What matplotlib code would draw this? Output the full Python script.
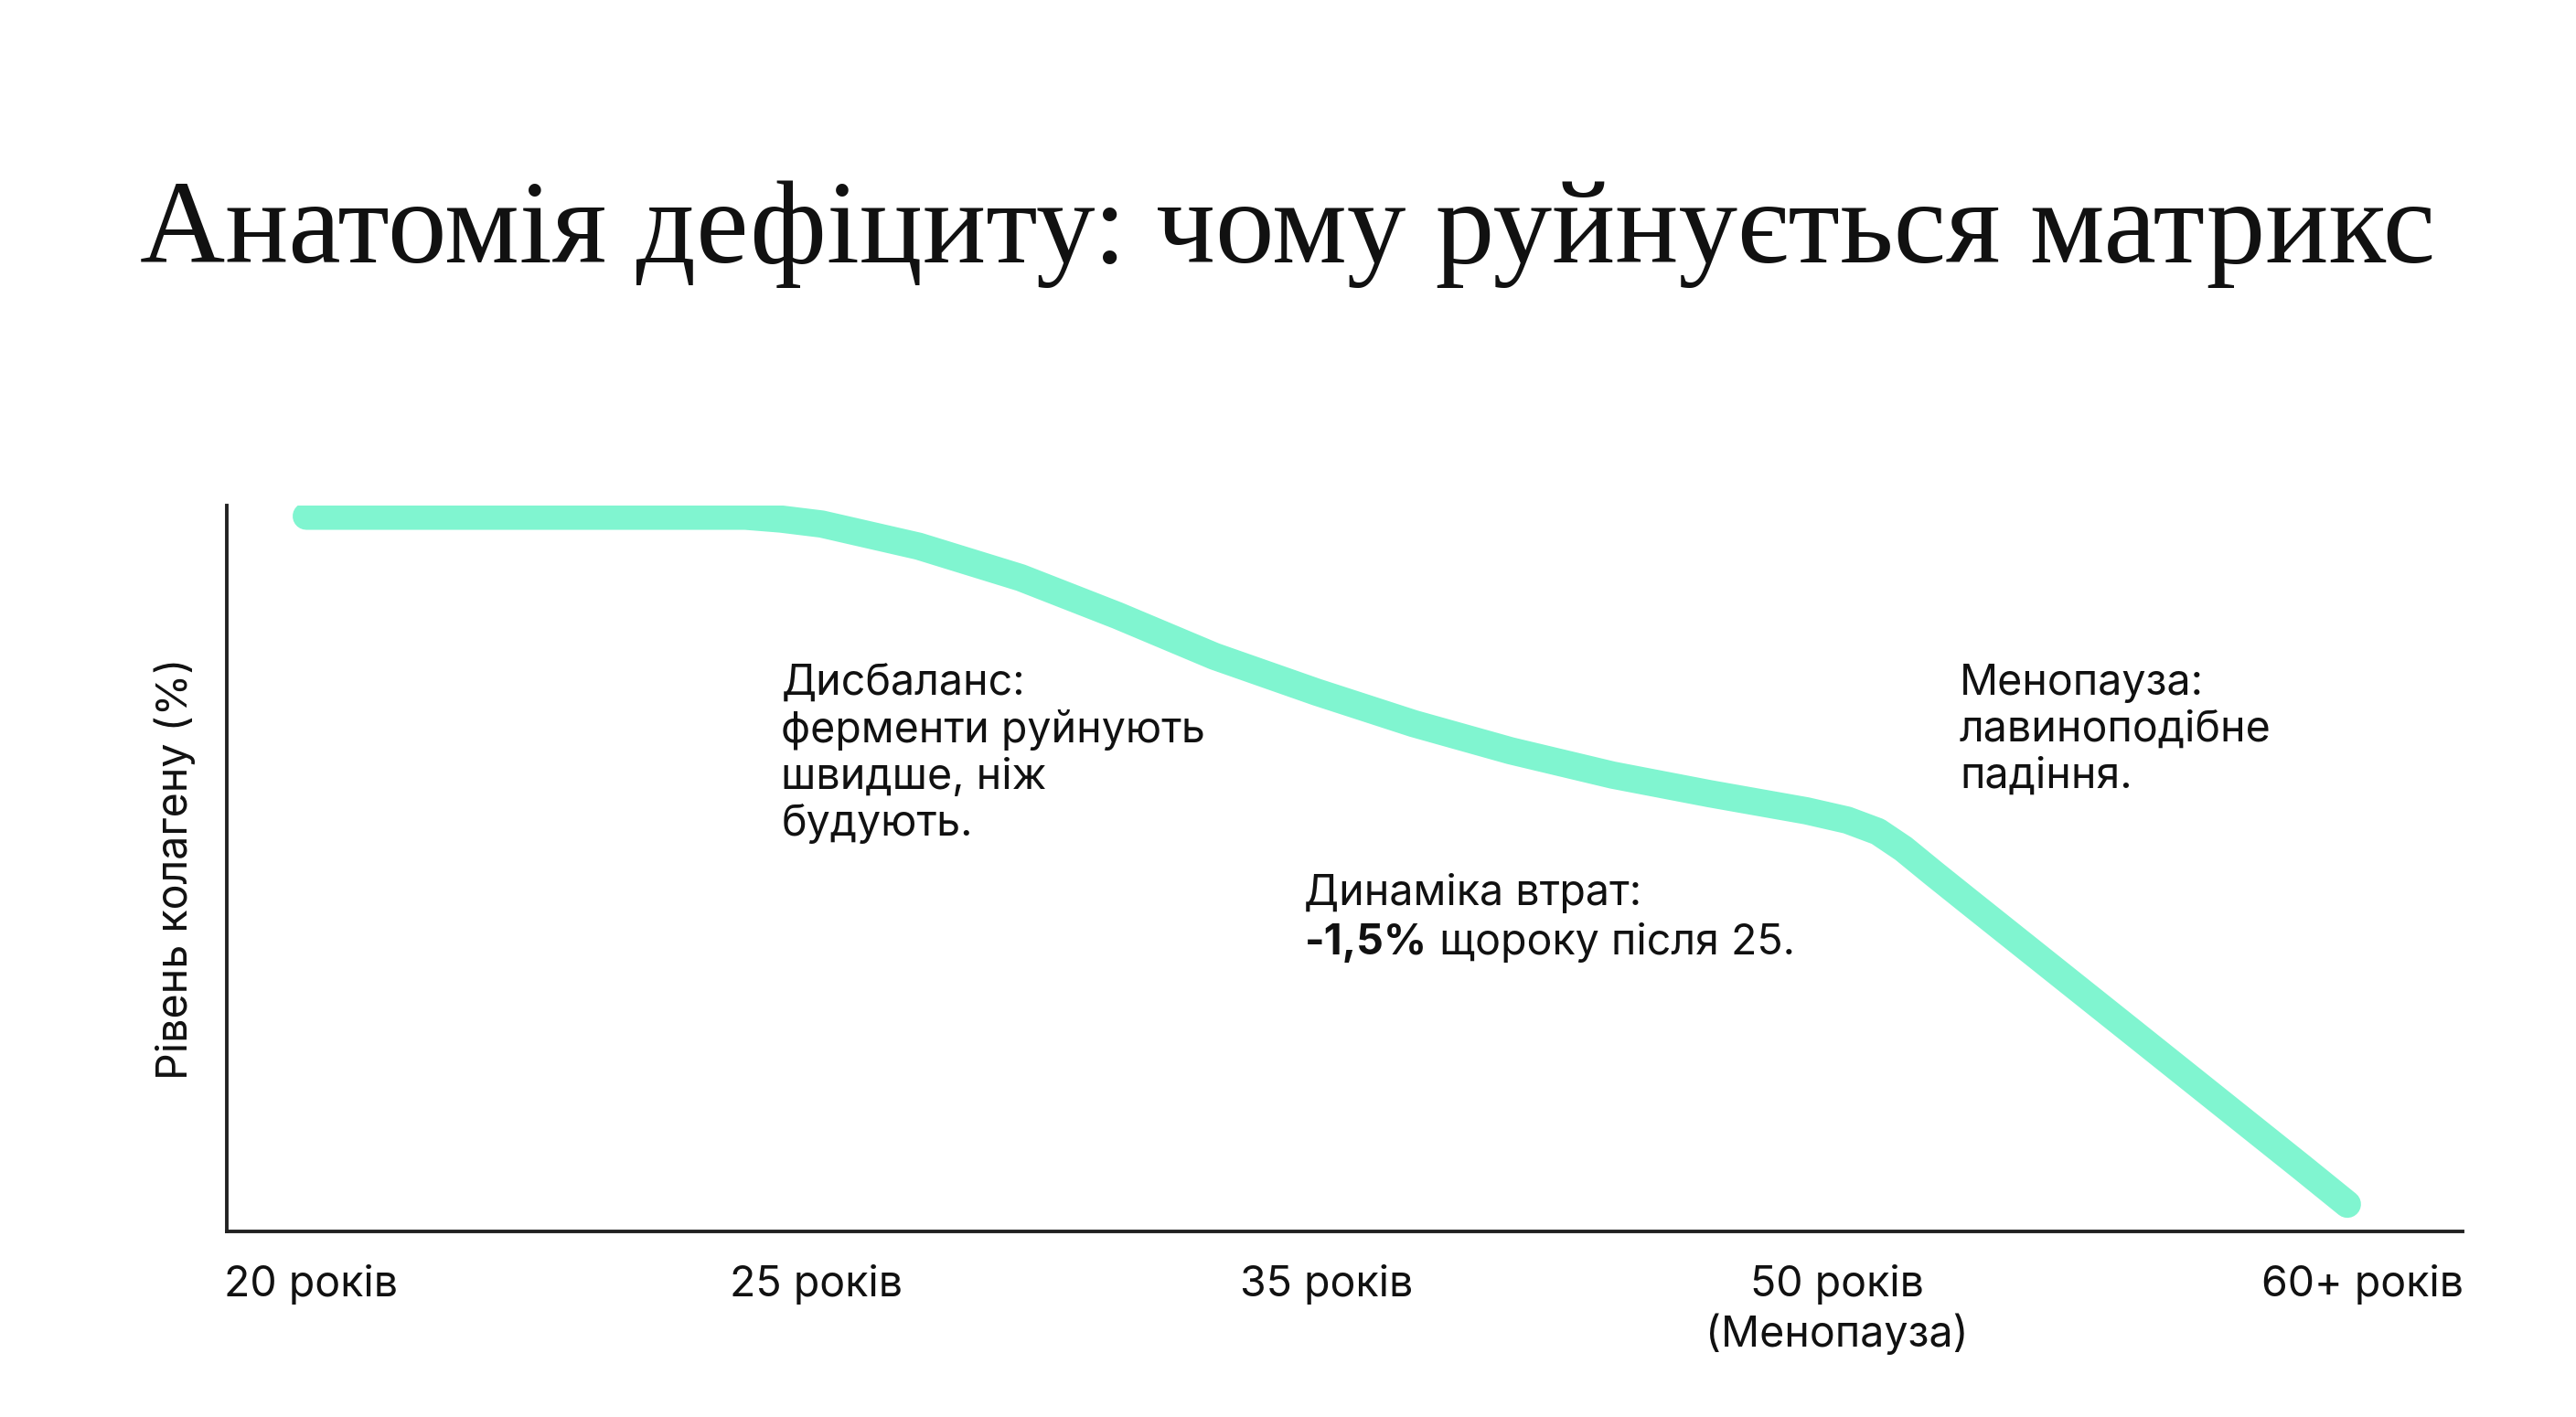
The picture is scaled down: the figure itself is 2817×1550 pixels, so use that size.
import matplotlib
matplotlib.use("Agg")
from matplotlib import pyplot as plt
from matplotlib.transforms import ScaledTranslation

# x axis: age stages (evenly spaced categories)
age_labels = ["20 років", "25 років", "35 років", "50 років\n(Менопауза)", "60+ років"]

# collagen curve: position on the age axis (tick units) and level (%)
curve_pos = [0.00, 0.86, 0.93, 1.01, 1.20, 1.40, 1.59, 1.78, 1.98, 2.17, 2.36,
             2.56, 2.75, 2.94, 3.02, 3.08, 3.13, 3.19, 3.26, 3.42, 3.58, 3.745,
             3.91, 4.00]
curve_level = [100.0, 100.0, 99.6, 98.9, 95.8, 91.4, 86.1, 80.4, 75.4, 71.0, 67.2,
               63.8, 61.2, 58.8, 57.5, 55.9, 53.5, 50.0, 46.0, 36.9, 27.8, 18.4,
               9.0, 3.8]

notes = [
    (0.248, 0.782, "Дисбаланс:\nферменти руйнують\nшвидше, ніж\nбудують."),
    (0.775, 0.782, "Менопауза:\nлавиноподібне\nпадіння."),
]
loss_head = "Динаміка втрат:"
loss_bold = "-1,5%"
loss_rest = " щороку після 25."

SANS = ["Inter", "DejaVu Sans"]
LINE_COLOR = "#80F5D0"
TXT = "#111111"
FS = 33.5

fig = plt.figure(figsize=(28.17, 15.5), dpi=100)
fig.patch.set_facecolor("white")
ax = fig.add_axes([0.088, 0.131, 0.868, 0.5123])

ax.plot(curve_pos, curve_level, color=LINE_COLOR, lw=21.5,
        solid_capstyle="round", solid_joinstyle="round")

ax.set_xlim(-0.156, 4.226)
ax.set_ylim(0, 101.5)
ax.set_xticks(range(len(age_labels)))
ax.set_xticklabels(age_labels, family=SANS, fontsize=FS, color=TXT,
                   linespacing=1.25)
ax.tick_params(axis="x", length=0, pad=27)
# the outer labels sit slightly inwards/outwards in the reference
lbls = ax.get_xticklabels()
lbls[0].set_transform(lbls[0].get_transform() + ScaledTranslation(0.05, 0, fig.dpi_scale_trans))
lbls[-1].set_transform(lbls[-1].get_transform() + ScaledTranslation(0.17, 0, fig.dpi_scale_trans))
ax.set_yticks([])
for side in ["top", "right"]:
    ax.spines[side].set_visible(False)
for side in ["left", "bottom"]:
    ax.spines[side].set_linewidth(2.8)
    ax.spines[side].set_color("#222222")

ax.set_ylabel("Рівень колагену (%)", family=SANS, fontsize=FS,
              color=TXT, labelpad=24)

for x, y, txt in notes:
    ax.text(x, y, txt, transform=ax.transAxes, family=SANS, fontsize=FS,
            color=TXT, va="top", ha="left", linespacing=1.2)

ax.text(0.482, 0.450, loss_head, transform=ax.transAxes, family=SANS,
        fontsize=FS, color=TXT, va="baseline", ha="left")
t_bold = ax.text(0.482, 0.382, loss_bold, transform=ax.transAxes, family=SANS,
                 fontsize=FS, fontweight="bold", color=TXT,
                 va="baseline", ha="left")
fig.canvas.draw()
bb = t_bold.get_window_extent()
x_next = ax.transAxes.inverted().transform((bb.x1, bb.y0))[0]
ax.text(x_next, 0.382, loss_rest, transform=ax.transAxes, family=SANS,
        fontsize=FS, color=TXT, va="baseline", ha="left")

fig.text(0.5, 1 - 287 / 1550, "Анатомія дефіциту: чому руйнується матрикс",
         family=["Liberation Serif", "DejaVu Serif"], fontsize=93,
         color=TXT, ha="center", va="baseline")

fig.savefig("out.png", dpi=100, facecolor="white")
